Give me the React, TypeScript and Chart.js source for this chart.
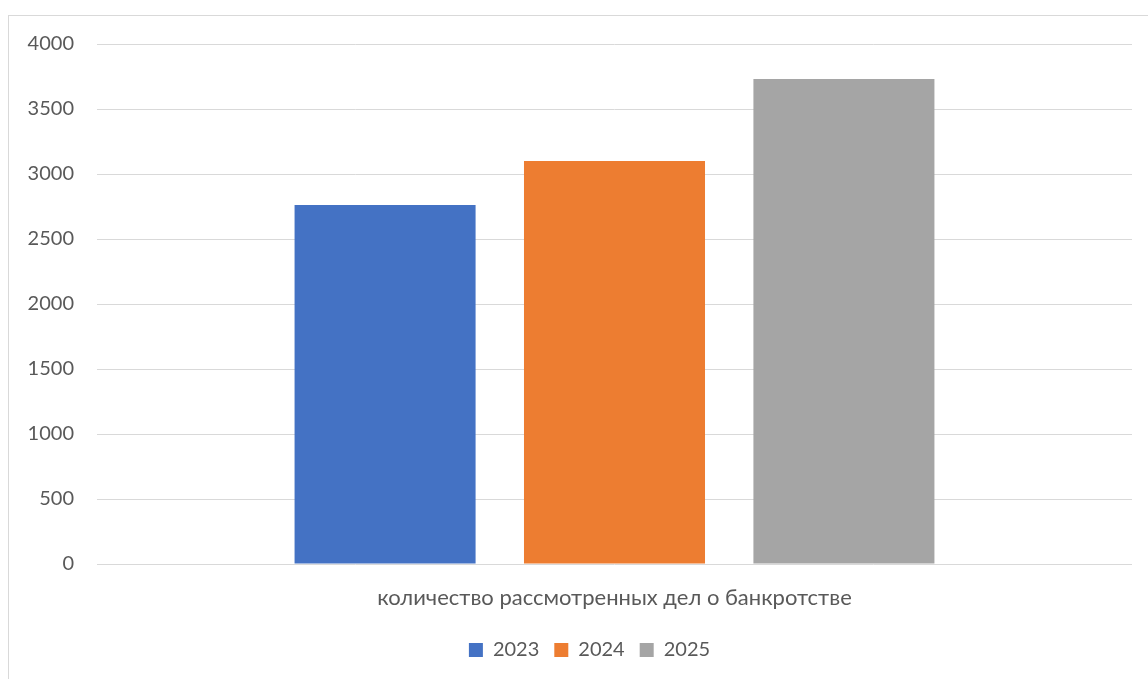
import React, { useEffect, useRef } from "react";
import { Chart, registerables } from "chart.js";

Chart.register(...registerables);

const categories = ["количество рассмотренных дел о банкротстве"];
const seriesNames = ["2023", "2024", "2025"];
const values2023 = [2762];
const values2024 = [3100];
const values2025 = [3731];
const seriesColors = ["#4472C4", "#ED7D31", "#A5A5A5"];

const FONT = "Lato";
const TEXT = "#595959";
const GRID = "#d9d9d9";

export default function App() {
  const ref = useRef<HTMLCanvasElement | null>(null);

  useEffect(() => {
    if (!ref.current) return;
    const data = [values2023, values2024, values2025];
    const chart = new Chart(ref.current, {
      type: "bar",
      data: {
        labels: categories,
        datasets: seriesNames.map((name, i) => ({
          label: name,
          data: data[i],
          backgroundColor: seriesColors[i],
          borderWidth: 0,
          categoryPercentage: 0.665,
          barPercentage: 0.789,
        })),
      },
      options: {
        responsive: false,
        animation: false,
        devicePixelRatio: 1,
        layout: { padding: { left: 0, top: 44, right: 0, bottom: 9 } },
        plugins: {
          tooltip: { enabled: false },
          legend: {
            position: "bottom",
            labels: {
              boxWidth: 14,
              boxHeight: 14,
              padding: 15,
              color: TEXT,
              font: { family: FONT, size: 20 },
            },
          },
        },
        scales: {
          x: {
            grid: { display: false, drawTicks: false },
            border: { display: false },
            ticks: {
              color: TEXT,
              font: { family: FONT, size: 22 },
              padding: 21,
            },
            afterFit: (s: any) => {
              s.height = 61;
            },
          },
          y: {
            min: 0,
            max: 4000,
            grid: { color: GRID, lineWidth: 1, drawTicks: false },
            border: { display: false },
            ticks: {
              stepSize: 500,
              color: TEXT,
              font: { family: FONT, size: 20 },
              padding: 23,
              callback: (v: any) => String(v),
            },
            afterFit: (s: any) => {
              s.width = 97;
            },
          },
          yRight: {
            position: "right",
            min: 0,
            max: 4000,
            grid: { display: false, drawTicks: false },
            border: { display: false },
            ticks: { display: false },
            afterFit: (s: any) => {
              s.width = 47;
            },
          },
        },
      },
    });
    return () => chart.destroy();
  }, []);

  return (
    <div
      style={{
        position: "fixed",
        left: 0,
        top: 0,
        width: 1148,
        height: 679,
        overflow: "hidden",
        background: "#fff",
      }}
    >
      <div
        style={{
          position: "absolute",
          left: 8,
          top: 15,
          width: 1300,
          height: 800,
          borderLeft: "1px solid #d9d9d9",
          borderTop: "1px solid #d9d9d9",
        }}
      />
      <canvas
        ref={ref}
        width={1179}
        height={679}
        style={{ position: "absolute", left: 0, top: 0, width: 1179, height: 679 }}
      />
    </div>
  );
}
